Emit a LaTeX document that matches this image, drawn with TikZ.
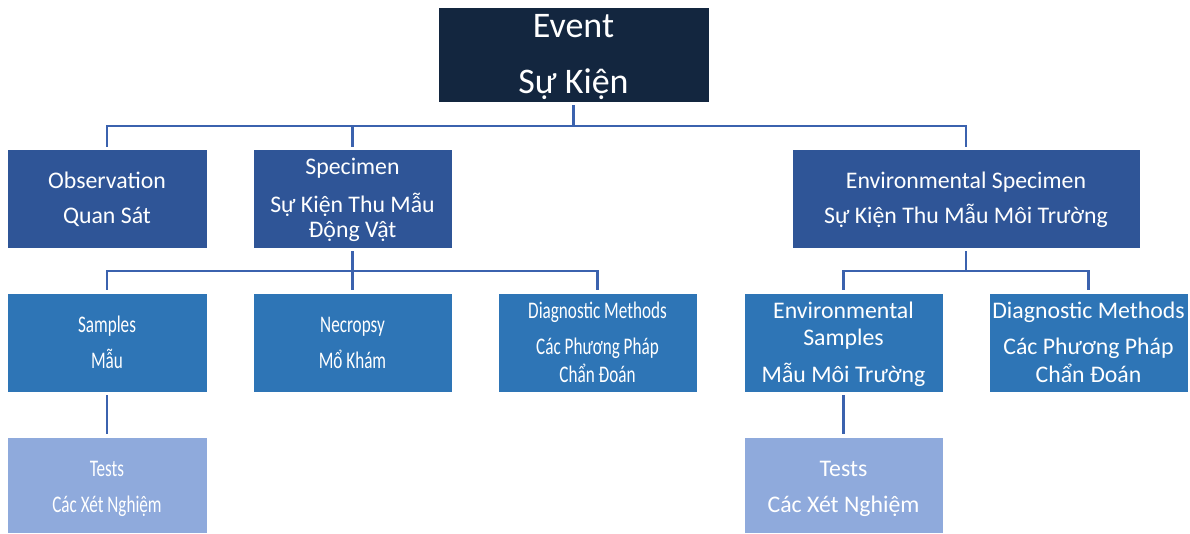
\documentclass[tikz,border=0pt]{standalone}
\usepackage{fontspec}
\setmainfont{Carlito}
\newfontfamily\condfont[FakeStretch=0.72]{Carlito}
\definecolor{navy}{HTML}{13263F}
\definecolor{lvtwo}{HTML}{2F5597}
\definecolor{lvthree}{HTML}{2E75B6}
\definecolor{lvfour}{HTML}{8FAADC}
\definecolor{conncol}{HTML}{3B62AE}
\begin{document}
\begin{tikzpicture}[x=1pt,y=-1pt,
  box/.style={draw=white,line width=0.6pt,inner sep=0pt,minimum height=99pt},
  toplvl/.style={box,fill=navy,minimum width=271pt,minimum height=95pt},
  secbox/.style={box,fill=lvtwo},
  thirdbox/.style={box,fill=lvthree,minimum width=199pt},
  testbox/.style={box,fill=lvfour,minimum width=200pt,minimum height=96pt},
  txt/.style={anchor=base,inner sep=0pt,text=white,font=\fontsize{23.8}{27}\selectfont},
  ctxt/.style={anchor=base,inner sep=0pt,text=white,font=\condfont\fontsize{23.8}{27}\selectfont},
  bigtxt/.style={anchor=base,inner sep=0pt,text=white,font=\fontsize{36}{40}\selectfont},
  conn/.style={draw=conncol,line width=2.8pt,line join=miter}]
\useasboundingbox (0,0) rectangle (1190,533);
% boxes
\node[toplvl] (ev) at (573.5,54.5) {};
\node[secbox,minimum width=200pt] (obs) at (107,198.5) {};
\node[secbox,minimum width=199pt] (spec) at (352.5,198.5) {};
\node[secbox,minimum width=348pt] (envs) at (966,198.5) {};
\node[thirdbox,minimum width=200pt] (smp) at (107,342.5) {};
\node[thirdbox] (nec) at (352.5,342.5) {};
\node[thirdbox] (dia) at (597.5,342.5) {};
\node[thirdbox] (esmp) at (843.5,342.5) {};
\node[thirdbox] (diatwo) at (1088.5,342.5) {};
\node[testbox] (tst) at (107,485) {};
\node[testbox,minimum width=199pt] (tsttwo) at (843.5,485) {};
% texts
\node[bigtxt] (ev-a) at (573.5,37) {Event};
\node[bigtxt] (ev-b) at (573.5,93) {Sự Kiện};
\node[txt] (obs-a) at (107,188) {Observation};
\node[txt] (obs-b) at (107,223) {Quan Sát};
\node[txt] (spec-a) at (352.5,174) {Specimen};
\node[txt] (spec-b) at (352.5,212) {Sự Kiện Thu Mẫu};
\node[txt] (spec-c) at (352.5,237) {Động Vật};
\node[txt] (envs-a) at (966,188) {Environmental Specimen};
\node[txt] (envs-b) at (966,223) {Sự Kiện Thu Mẫu Môi Trường};
\node[ctxt] (smp-a) at (107,332) {Samples};
\node[ctxt] (smp-b) at (107,368) {Mẫu};
\node[ctxt] (nec-a) at (352.5,332) {Necropsy};
\node[ctxt] (nec-b) at (352.5,368) {Mổ Khám};
\node[ctxt] (dia-a) at (597.5,318) {Diagnostic Methods};
\node[ctxt] (dia-b) at (597.5,354) {Các Phương Pháp};
\node[ctxt] (dia-c) at (597.5,382) {Chẩn Đoán};
\node[txt] (esmp-a) at (843.5,318) {Environmental};
\node[txt] (esmp-b) at (843.5,345) {Samples};
\node[txt] (esmp-c) at (843.5,382) {Mẫu Môi Trường};
\node[txt] (diatwo-a) at (1088.5,318) {Diagnostic Methods};
\node[txt] (diatwo-b) at (1088.5,354) {Các Phương Pháp};
\node[txt] (diatwo-c) at (1088.5,382) {Chẩn Đoán};
\node[ctxt] (tst-a) at (107,476) {Tests};
\node[ctxt] (tst-b) at (107,512) {Các Xét Nghiệm};
\node[txt] (tsttwo-a) at (843.5,476) {Tests};
\node[txt] (tsttwo-b) at (843.5,512) {Các Xét Nghiệm};
% connectors
\coordinate (barone) at (573.5,126);
\coordinate (bartwo) at (352.5,271);
\coordinate (barthree) at (966,271);
\draw[conn,shorten <=3pt] (ev.south) -- (barone);
\draw[conn,shorten >=2pt] (barone) -| (obs.north);
\draw[conn,shorten >=2pt] (barone) -| (spec.north);
\draw[conn,shorten >=2pt] (barone) -| (envs.north);
\draw[conn,shorten <=3pt] (spec.south) -- (bartwo);
\draw[conn,shorten >=3pt] (bartwo) -| (smp.north);
\draw[conn,shorten >=3pt] (bartwo) -- (nec.north);
\draw[conn,shorten >=3pt] (bartwo) -| (dia.north);
\draw[conn,shorten <=3pt] (envs.south) -- (barthree);
\draw[conn,shorten >=3pt] (barthree) -| (esmp.north);
\draw[conn,shorten >=3pt] (barthree) -| (diatwo.north);
\draw[conn,shorten <=3pt,shorten >=3pt] (smp.south) -- (tst.north);
\draw[conn,shorten <=3pt,shorten >=3pt] (esmp.south) -- (tsttwo.north);
\end{tikzpicture}
\end{document}
